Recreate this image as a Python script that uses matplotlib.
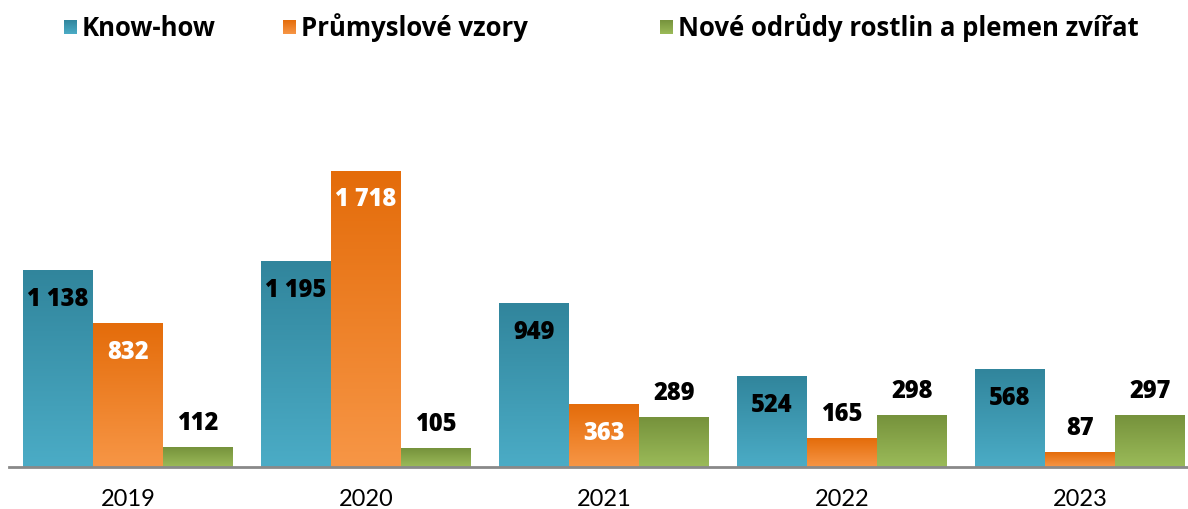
import numpy as np
import matplotlib
matplotlib.use("Agg")
import matplotlib.pyplot as plt
from matplotlib.colors import LinearSegmentedColormap

years = ["2019", "2020", "2021", "2022", "2023"]
series_names = ["Know-how", "Průmyslové vzory", "Nové odrůdy rostlin a plemen zvířat"]
know_how = [1138, 1195, 949, 524, 568]
prumyslove_vzory = [832, 1718, 363, 165, 87]
nove_odrudy = [112, 105, 289, 298, 297]

series_values = [know_how, prumyslove_vzory, nove_odrudy]
# (top colour, bottom colour)
grad_colors = [("#31859C", "#4BACC6"), ("#E46C0A", "#F79646"), ("#76923C", "#9BBB59")]
inside_label_color = ["black", "white", "black"]

plt.rcParams['font.family'] = ['Lato', 'DejaVu Sans']
bold_family = ['Open Sans', 'DejaVu Sans']

W, H = 1188, 510
fig = plt.figure(figsize=(W / 100, H / 100), dpi=100)

# main axes: baseline at y=468 px, category slots of 238 px starting at x=9
ax_left, ax_right = 9, 1199
base_y = 468
ymax = 2000
px_per_unit = 296 / 1718
ax_h = ymax * px_per_unit
ax = fig.add_axes([ax_left / W, (H - base_y) / H, (ax_right - ax_left) / W, ax_h / H])
ax.set_xlim(-0.5, len(years) - 0.5)
ax.set_ylim(0, ymax)

bw = 0.294
x = np.arange(len(years))
offsets = [-bw, 0, bw]
grad = np.linspace(0, 1, 256).reshape(-1, 1)

for si, vals in enumerate(series_values):
    top_c, bot_c = grad_colors[si]
    cmap = LinearSegmentedColormap.from_list(f"g{si}", [bot_c, top_c])
    bars = ax.bar(x + offsets[si], vals, width=bw, color="none", edgecolor="none", zorder=2)
    for b, v in zip(bars, vals):
        x0, y0 = b.get_x(), b.get_y()
        x1, y1 = x0 + b.get_width(), y0 + b.get_height()
        ax.imshow(grad, extent=[x0, x1, y0, y1], origin="lower", aspect="auto",
                  cmap=cmap, interpolation="bilinear", zorder=2)
        label = f"{v:,}".replace(",", " ")
        cx = x0 + b.get_width() / 2
        if v > 330:
            ax.annotate(label, (cx, y1), xytext=(0, -28), textcoords="offset pixels",
                        ha="center", va="center", fontsize=17, fontweight="heavy",
                        family=bold_family, color=inside_label_color[si], zorder=4)
        else:
            ax.annotate(label, (cx, y1), xytext=(0, 25), textcoords="offset pixels",
                        ha="center", va="center", fontsize=17, fontweight="heavy",
                        family=bold_family, color="black", zorder=4)

ax.set_xlim(-0.5, len(years) - 0.5)
ax.set_ylim(0, ymax)
ax.set_xticks(x)
ax.set_xticklabels(years, fontsize=17)
ax.tick_params(axis="x", length=0, pad=15)
ax.set_yticks([])
for s in ["top", "right", "left"]:
    ax.spines[s].set_visible(False)
ax.spines["bottom"].set_color("#898989")
ax.spines["bottom"].set_linewidth(2)
ax.spines["bottom"].set_zorder(5)

# legend overlay in pixel coordinates
lax = fig.add_axes([0, 0, 1, 1])
lax.set_xlim(0, W)
lax.set_ylim(H, 0)
lax.axis("off")
marker_x = [64, 283, 660]
for si, name in enumerate(series_names):
    top_c, bot_c = grad_colors[si]
    cmap = LinearSegmentedColormap.from_list(f"l{si}", [bot_c, top_c])
    mx = marker_x[si]
    lax.imshow(grad, extent=[mx, mx + 13, 35, 21], origin="lower", aspect="auto",
               cmap=cmap, interpolation="bilinear")
    lax.text(mx + 18, 28, name, ha="left", va="center", fontsize=18.5,
             fontweight="bold", family=bold_family)
lax.set_xlim(0, W)
lax.set_ylim(H, 0)

fig.savefig("out.png", dpi=100)
